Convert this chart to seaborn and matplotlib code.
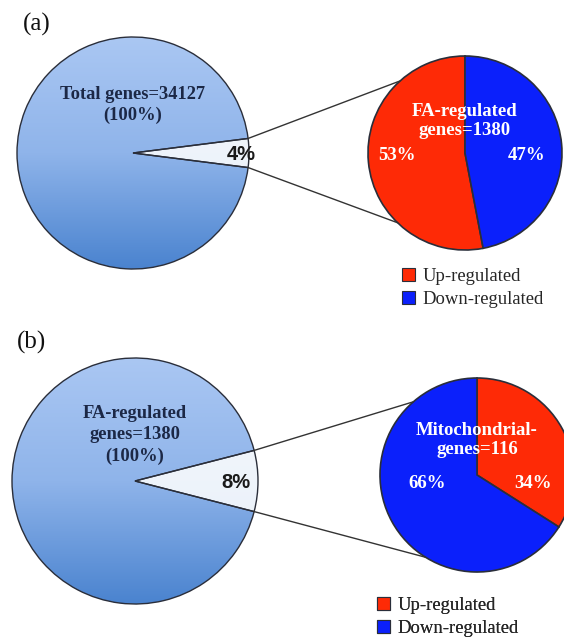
import numpy as np
import matplotlib
matplotlib.use("Agg")
import matplotlib.pyplot as plt
import seaborn as sns
from matplotlib.patches import Patch

# ===============================
# Data
# ===============================
panel_tags = ["(a)", "(b)"]
big_titles = ["Total genes=34127\n(100%)", "FA-regulated\ngenes=1380\n(100%)"]
subset_share = [4, 8]                      # % of the big pie pulled out
small_titles = ["FA-regulated\ngenes=1380", "Mitochondrial-\ngenes=116"]
up_share = [53, 34]                        # Up-regulated %
down_share = [47, 66]                      # Down-regulated %
legend_labels = ["Up-regulated", "Down-regulated"]

RED = "#fe2a06"
BLUE = "#0b20fb"
EDGE = "#2a2e3a"
NAVY = "#1c2846"

W, H = 564, 638

sns.set_theme(style="white")
plt.rcParams["font.family"] = ["Liberation Serif", "DejaVu Serif"]

fig = plt.figure(figsize=(W / 100, H / 100), dpi=100)
ax = fig.add_axes([0, 0, 1, 1])


def py(y):
    # pixel row -> data y (y up)
    return H - y


# layout per panel (pixel coords): big pie, small pie, text spots
layout = [
    dict(big=(133, 153, 116), small=(465, 153, 97), tag=(37, 24),
         big_title_y=105, small_title_y=121, val_y=156, val_dx=(-68, 62),
         pct_x=241, ang_up=132, ang_dn=-134, legend=(402, 268), counter=True),
    dict(big=(135, 481, 123), small=(477, 475, 97), tag=(32, 342),
         big_title_y=435, small_title_y=440, val_y=483, val_dx=(-50, 56),
         pct_x=236, ang_up=131, ang_dn=-122, legend=(377, 597), counter=False),
]

blue_grad = sns.blend_palette(["#aac7f3", "#8fb4ea", "#4a83cf"], n_colors=256)
light_grad = sns.blend_palette(["#f6f9fd", "#e6eef8"], n_colors=256)

for i, lay in enumerate(layout):
    bx, by, br = lay["big"]
    sx, sy, sr = lay["small"]
    half = subset_share[i] * 360 / 100 / 2

    # ---- big pie with vertical gradient
    wedges, _ = ax.pie([subset_share[i], 100 - subset_share[i]],
                       center=(bx, py(by)), radius=br, startangle=-half,
                       colors=["none", "none"],
                       wedgeprops=dict(edgecolor=EDGE, linewidth=1.0))
    ext = (bx - br, bx + br, py(by) - br, py(by) + br)
    for w, grad in zip(wedges, [light_grad, blue_grad]):
        img = np.array(grad)[:, None, :]
        im = ax.imshow(img, extent=ext, aspect="auto", origin="upper",
                       interpolation="bilinear", zorder=0)
        im.set_clip_path(w)

    ax.text(bx, py(lay["big_title_y"]), big_titles[i], ha="center", va="center",
            fontsize=13.3, fontweight="bold", color=NAVY, linespacing=1.3)

    ax.text(lay["pct_x"], py(by + 2), f"{subset_share[i]}%", ha="center",
            va="center", fontsize=14.5, fontweight="bold", color="#1a1a1a",
            family=["Liberation Sans", "DejaVu Sans"])

    # ---- connector lines
    for a_big, a_small in [(half, lay["ang_up"]), (-half, lay["ang_dn"])]:
        x0 = bx + br * np.cos(np.radians(a_big))
        y0 = py(by) + br * np.sin(np.radians(a_big))
        x1 = sx + sr * np.cos(np.radians(a_small))
        y1 = py(sy) + sr * np.sin(np.radians(a_small))
        ax.plot([x0, x1], [y0, y1], color="#333333", linewidth=1.0, zorder=2)

    # ---- small pie
    ax.pie([up_share[i], down_share[i]], center=(sx, py(sy)), radius=sr,
           startangle=90, counterclock=lay["counter"], colors=[RED, BLUE],
           wedgeprops=dict(edgecolor=EDGE, linewidth=1.2))

    ax.text(sx, py(lay["small_title_y"]), small_titles[i], ha="center",
            va="center", fontsize=13.5, fontweight="bold", color="white",
            linespacing=1.12)
    left_val = up_share[i] if lay["counter"] else down_share[i]
    right_val = down_share[i] if lay["counter"] else up_share[i]
    dxl, dxr = lay["val_dx"]
    for dx, v in [(dxl, left_val), (dxr, right_val)]:
        ax.text(sx + dx, py(lay["val_y"]), f"{v}%", ha="center", va="center",
                fontsize=13.5, fontweight="bold", color="white")

    # ---- legend
    handles = [Patch(facecolor=RED, edgecolor=EDGE, linewidth=0.8),
               Patch(facecolor=BLUE, edgecolor=EDGE, linewidth=0.8)]
    lx, ly = lay["legend"]
    leg = ax.legend(handles, legend_labels, loc="upper left",
                    bbox_to_anchor=(lx, py(ly)), bbox_transform=ax.transData,
                    frameon=False, fontsize=13.4, handlelength=0.7,
                    handleheight=0.7, handletextpad=0.4, labelspacing=0.3,
                    borderpad=0, borderaxespad=0)
    ax.add_artist(leg)

    # ---- panel tag
    tx, tyy = lay["tag"]
    ax.text(tx, py(tyy), panel_tags[i], ha="center", va="center", fontsize=18,
            color="#111111")

ax.set_xlim(0, W)
ax.set_ylim(0, H)
ax.set_aspect("equal")
ax.axis("off")

fig.savefig("out.png", dpi=100, facecolor="white")
